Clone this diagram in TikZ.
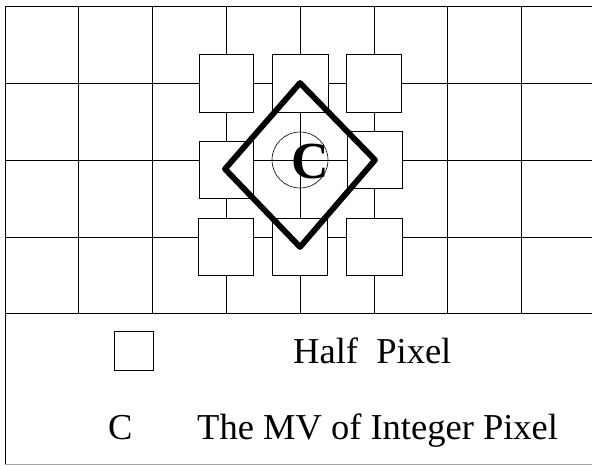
\documentclass[tikz,border=0pt]{standalone}
\usepackage{fontspec}
\setmainfont{Liberation Serif}
\tikzset{
	gridline/.style={line width=0.8pt},
	halfpix/.style={draw, fill=white, line width=0.8pt},
	legendtext/.style={anchor=base west, inner sep=0pt, font=\fontsize{36.5}{40}\selectfont}
}

\begin{document}
\begin{tikzpicture}[x=1pt, y=-1pt]
		%%%%% START %%%%%
		\useasboundingbox (0, 0) rectangle (592, 466);
		
		% frame
		\draw[gridline] (592, 6) -- (5, 6) -- (5, 464);
		\draw[line width=0.8pt, color=black!35] (5, 464) -- (592, 464);
		
		% integer pixel grid
		\draw[gridline] (5, 83) -- (592, 83);
		\draw[gridline] (5, 160) -- (592, 160);
		\draw[gridline] (5, 237) -- (592, 237);
		\draw[gridline] (5, 313) -- (592, 313);
		\draw[gridline] (78, 6) -- (78, 313);
		\draw[gridline] (152, 6) -- (152, 313);
		\draw[gridline] (226, 6) -- (226, 313);
		\draw[gridline] (300, 6) -- (300, 313);
		\draw[gridline] (374, 6) -- (374, 313);
		\draw[gridline] (447, 6) -- (447, 313);
		\draw[gridline] (521, 6) -- (521, 313);
		
		% half pixels
		\draw[halfpix] (199, 54) rectangle (253, 112);
		\draw[halfpix] (272, 54) rectangle (328, 112);
		\draw[halfpix] (346, 54) rectangle (401, 112);
		\draw[halfpix] (199, 141) rectangle (253, 198);
		\draw[halfpix] (347, 131) rectangle (402, 188);
		\draw[halfpix] (198, 218) rectangle (253, 275);
		\draw[halfpix] (272, 218) rectangle (327, 275);
		\draw[halfpix] (346, 218) rectangle (402, 275);
		
		% search diamond
		\draw[line width=5.8pt, line join=round] (300, 83) -- (375, 160) -- (300, 247) -- (225, 169) -- cycle;
		
		\draw[line width=0.6pt] (300, 160) circle (28);
		\node[inner sep=0pt, font=\fontsize{52}{54}\selectfont\bfseries] (mvc) at (310, 162) {C};
		
		% legend
		\draw[halfpix] (114, 331) rectangle (153, 370);
		\node[legendtext] (halflbl) at (293, 363) {Half\ \ Pixel};
		\node[legendtext] (clbl) at (108, 439) {C};
		\node[legendtext] (mvlbl) at (197, 439) {The MV of Integer Pixel};
		
		%%%%% END %%%%%
	\end{tikzpicture}
\end{document}
